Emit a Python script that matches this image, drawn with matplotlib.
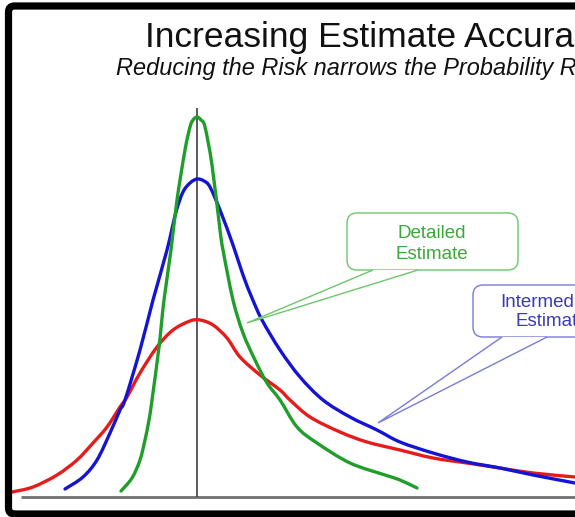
"""
Curvas de probabilidad de estimacion: a mas detalle, menor dispersion.
"""

import matplotlib

matplotlib.use("Agg")
import matplotlib.pyplot as plt
import numpy as np
from matplotlib.patches import FancyBboxPatch, PathPatch, Polygon
from matplotlib.path import Path

plt.rcParams["font.family"] = ["Liberation Sans", "DejaVu Sans"]

TITLE = "Increasing Estimate Accuracy"
SUBTITLE = "Reducing the Risk narrows the Probability Range"

# valores: x = coste estimado, y = probabilidad (unidades arbitrarias)
detailed_x = [121, 132, 140, 145, 149, 152, 159, 164, 171, 177, 185, 190, 193, 197, 201,
              205, 212, 220, 223, 233, 243, 255, 267, 280, 297, 317, 350, 385, 400, 417]
detailed_y = [6, 19, 37, 57, 77, 97, 150, 197, 247, 297, 347, 370, 377, 380, 377,
              370, 332, 267, 247, 197, 164, 137, 114, 97, 70, 54, 34, 22, 17, 9]

intermediate_x = [65, 83, 97, 110, 120, 125, 140, 153, 167, 176, 183, 190, 197, 204, 210, 220,
                  233, 243, 252, 262, 280, 300, 323, 350, 377, 400, 433, 467, 500, 533, 575]
intermediate_y = [8, 20, 37, 64, 87, 97, 147, 197, 247, 285, 305, 314, 318, 316, 310, 287,
                  252, 222, 199, 177, 147, 120, 97, 80, 67, 55, 44, 35, 29, 22, 14]

rough_x = [12, 33, 57, 77, 93, 107, 120, 127, 140, 157, 173, 190, 200, 213, 227, 240, 260,
           280, 290, 310, 340, 367, 400, 433, 467, 500, 533, 575]
rough_y = [5, 10, 22, 37, 54, 70, 90, 100, 124, 150, 167, 176, 177, 172, 159, 140, 122,
           107, 97, 80, 65, 55, 47, 39, 34, 29, 24, 20]

MODE_X = 197  # valor mas probable (linea vertical)

GREEN = "#1f9e2a"
BLUE = "#1414d2"
RED = "#e41c1c"


def smooth_path(x, y):
    """Path bezier (Catmull-Rom) que pasa por los puntos leidos."""
    p = np.column_stack([x, y]).astype(float)
    verts = [p[0]]
    codes = [Path.MOVETO]
    for i in range(len(p) - 1):
        p0 = p[i - 1] if i > 0 else p[i]
        p3 = p[i + 2] if i + 2 < len(p) else p[i + 1]
        c1 = p[i] + (p[i + 1] - p0) / 6.0
        c2 = p[i + 1] - (p3 - p[i]) / 6.0
        verts.extend([c1, c2, p[i + 1]])
        codes.extend([Path.CURVE4] * 3)
    return Path(verts, codes)


def draw_curve(ax, x, y, color):
    patch = PathPatch(smooth_path(x, y), facecolor="none", edgecolor=color, lw=2.4,
                      capstyle="round", joinstyle="round", zorder=3)
    ax.add_patch(patch)


def callout(ax, x0, y0, x1, y1, pointer, edge, rounding=10):
    box = FancyBboxPatch((x0, y0), x1 - x0, y1 - y0,
                         boxstyle=f"round,pad=0,rounding_size={rounding}",
                         facecolor="white", edgecolor=edge, lw=1.0, zorder=4)
    ax.add_patch(box)
    tri = Polygon(pointer, closed=False, facecolor="white", edgecolor=edge,
                  lw=1.0, zorder=5)
    ax.add_patch(tri)


def main():
    fig = plt.figure(figsize=(5.75, 5.17), dpi=100)
    ax = fig.add_axes([0, 0, 1, 1])
    ax.set_xlim(0, 575)
    ax.set_ylim(-20, 497)
    ax.axis("off")

    # ejes
    ax.hlines(0, 21, 575, color="#707070", lw=2.0, zorder=1)
    ax.vlines(MODE_X, 0, 389, color="#404040", lw=1.2, zorder=1)

    draw_curve(ax, rough_x, rough_y, RED)
    draw_curve(ax, intermediate_x, intermediate_y, BLUE)
    draw_curve(ax, detailed_x, detailed_y, GREEN)

    # globos
    callout(ax, 347, 227, 518, 284, [(373, 227), (247, 174), (418, 227)], "#6cc66c")
    ax.text(432, 253, "Detailed\nEstimate", color="#3aa83a", fontsize=13.5,
            ha="center", va="center", linespacing=1.3, zorder=6)
    callout(ax, 473, 160, 640, 212, [(502, 160), (378, 74), (547, 160)], "#7a7ad8")
    ax.text(552, 185, "Intermediate\nEstimate", color="#3a3ab8", fontsize=13.5,
            ha="center", va="center", linespacing=1.2, zorder=6)

    # titulos
    ax.text(145, 450, TITLE, fontsize=25.5, color="#111111", ha="left", va="baseline")
    ax.text(116, 422, SUBTITLE, fontsize=16.9, style="italic", color="#111111",
            ha="left", va="baseline")

    # marco
    frame = FancyBboxPatch((8.5, -17), 640, 508,
                           boxstyle="round,pad=0,rounding_size=6",
                           facecolor="none", edgecolor="black", lw=5.2, zorder=10)
    ax.add_patch(frame)

    fig.savefig("out.png", dpi=100)


if __name__ == "__main__":
    main()
